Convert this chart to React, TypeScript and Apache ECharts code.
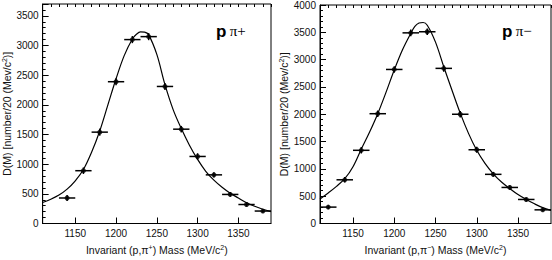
import React, { useEffect, useRef } from "react";
import * as echarts from "echarts";

// ---- data ----
const binHalfWidth = 10;

const plusMass = [1140, 1160, 1180, 1200, 1220, 1240, 1260, 1280, 1300, 1320, 1340, 1360, 1380];
const plusCounts = [430, 890, 1540, 2390, 3100, 3150, 2310, 1590, 1130, 820, 490, 320, 210];
const plusErr = [50, 55, 60, 60, 60, 60, 60, 55, 55, 45, 40, 35, 30];

const minusMass = [1120, 1140, 1160, 1180, 1200, 1220, 1240, 1260, 1280, 1300, 1320, 1340, 1360, 1380];
const minusCounts = [300, 800, 1340, 2010, 2820, 3490, 3510, 2840, 2000, 1350, 900, 660, 440, 250];
const minusErr = [35, 50, 60, 60, 60, 60, 60, 60, 60, 55, 45, 40, 35, 30];

const fitMass = [1110, 1120, 1130, 1140, 1150, 1160, 1170, 1180, 1190, 1200, 1210, 1220, 1225, 1230, 1235, 1240, 1250, 1260, 1270, 1280, 1290, 1300, 1310, 1320, 1330, 1340, 1350, 1360, 1370, 1380, 1390];
const plusFit = [355, 410, 480, 580, 720, 910, 1200, 1560, 2000, 2440, 2830, 3110, 3190, 3230, 3225, 3180, 2850, 2340, 1920, 1600, 1320, 1080, 880, 730, 610, 510, 430, 350, 290, 240, 200];
const minusFit = [450, 560, 680, 820, 1040, 1360, 1670, 2010, 2400, 2810, 3180, 3480, 3610, 3670, 3680, 3630, 3320, 2870, 2440, 2020, 1650, 1340, 1100, 910, 760, 640, 530, 440, 360, 290, 240];

const xMajorTicks = [1150, 1200, 1250, 1300, 1350];
const xMin = 1110;
const xMax = 1390;
const plusYMax = 3700;
const minusYMax = 4000;

const FONT = "'Liberation Sans', Arial, Helvetica, sans-serif";

function zip(a: number[], b: number[], c?: number[]) {
  return a.map((v, i) => (c ? [v, b[i], c[i]] : [v, b[i]]));
}

function errRender(params: any, api: any) {
  const x = api.value(0);
  const y = api.value(1);
  const e = api.value(2);
  const a = api.coord([x - binHalfWidth, y]);
  const b = api.coord([x + binHalfWidth, y]);
  const c = api.coord([x, y - e]);
  const d = api.coord([x, y + e]);
  const style = { stroke: "#000", lineWidth: 1.5 };
  return {
    type: "group",
    children: [
      { type: "line", shape: { x1: a[0], y1: a[1], x2: b[0], y2: b[1] }, style },
      { type: "line", shape: { x1: c[0], y1: c[1], x2: d[0], y2: d[1] }, style },
    ],
  };
}

const axisLineStyle = { color: "#000", width: 1 };
const supStyle = { fontSize: 7, verticalAlign: "top", padding: [0, 0, 5, 0], fontFamily: FONT, color: "#111" };

function makeXAxes(gridIndex: number, sign: string) {
  return [
    {
      type: "value",
      gridIndex,
      min: xMin,
      max: xMax,
      splitLine: { show: false },
      axisLine: { show: true, lineStyle: axisLineStyle },
      axisTick: { show: true, inside: true, length: 6, lineStyle: axisLineStyle, customValues: xMajorTicks },
      axisLabel: {
        customValues: xMajorTicks,
        formatter: (v: number) => String(v),
        color: "#111",
        fontFamily: FONT,
        fontSize: 10,
        margin: 5,
      },
      name: `Invariant (p,π{sup|${sign}}) Mass (MeV/c{sup|2})`,
      nameLocation: "middle",
      nameGap: 20,
      nameTextStyle: {
        color: "#111",
        fontFamily: FONT,
        fontSize: 10.5,
        rich: { sup: supStyle },
      },
    },
    {
      type: "value",
      gridIndex,
      min: xMin,
      max: xMax,
      interval: 10,
      splitLine: { show: false },
      axisLine: { show: false },
      axisTick: { show: true, inside: true, length: 3, lineStyle: axisLineStyle },
      axisLabel: { show: false },
    },
  ];
}

function makeYAxis(gridIndex: number, max: number) {
  return {
    type: "value",
    gridIndex,
    min: 0,
    max,
    interval: 500,
    splitLine: { show: false },
    axisLine: { show: true, lineStyle: axisLineStyle },
    axisTick: { show: true, inside: true, length: 6, lineStyle: axisLineStyle },
    minorTick: { show: true, splitNumber: 5, length: 3, lineStyle: axisLineStyle },
    axisLabel: {
      color: "#111",
      fontFamily: FONT,
      fontSize: 10,
      margin: 4,
      formatter: (v: number) => (v % 500 === 0 ? String(v) : ""),
    },
    name: "D(M) [number/20 (Mev/c{sup|2})]",
    nameLocation: "middle",
    nameRotate: 90,
    nameGap: 28,
    nameTextStyle: {
      color: "#111",
      fontFamily: FONT,
      fontSize: 10.5,
      rich: { sup: supStyle },
    },
  };
}

function piLabel(x: number, text: string) {
  return {
    type: "text",
    x,
    y: 31,
    style: {
      text,
      verticalAlign: "middle",
      rich: {
        p: { fontFamily: FONT, fontWeight: "bold", fontSize: 17, fill: "#000" },
        pi: { fontFamily: "'Liberation Serif', 'DejaVu Serif', serif", fontSize: 15, fill: "#000" },
      },
    },
  };
}

export default function App() {
  const ref = useRef<HTMLDivElement>(null);
  useEffect(() => {
    if (!ref.current) return;
    const chart = echarts.init(ref.current, undefined, { renderer: "svg" });
    const option: any = {
      animation: false,
      backgroundColor: "#fff",
      grid: [
        { left: 41, top: 4, width: 230, height: 229, show: true, borderColor: "#000", borderWidth: 1, backgroundColor: "transparent" },
        { left: 320, top: 5, width: 231, height: 229, show: true, borderColor: "#000", borderWidth: 1, backgroundColor: "transparent" },
      ],
      xAxis: [...makeXAxes(0, "+"), ...makeXAxes(1, "−")],
      yAxis: [makeYAxis(0, plusYMax), makeYAxis(1, minusYMax)],
      graphic: [piLabel(216, "{p|p} {pi|π+}"), piLabel(502, "{p|p} {pi|π−}")],
      series: [
        {
          type: "line",
          xAxisIndex: 0,
          yAxisIndex: 0,
          data: zip(fitMass, plusFit),
          smooth: 0.35,
          showSymbol: false,
          lineStyle: { color: "#000", width: 1.2 },
          z: 2,
        },
        {
          type: "custom",
          xAxisIndex: 0,
          yAxisIndex: 0,
          data: zip(plusMass, plusCounts, plusErr),
          renderItem: errRender,
          z: 3,
        },
        {
          type: "scatter",
          xAxisIndex: 0,
          yAxisIndex: 0,
          data: zip(plusMass, plusCounts),
          symbol: "circle",
          symbolSize: 5,
          itemStyle: { color: "#000" },
          z: 4,
        },
        {
          type: "line",
          xAxisIndex: 2,
          yAxisIndex: 1,
          data: zip(fitMass, minusFit),
          smooth: 0.35,
          showSymbol: false,
          lineStyle: { color: "#000", width: 1.2 },
          z: 2,
        },
        {
          type: "custom",
          xAxisIndex: 2,
          yAxisIndex: 1,
          data: zip(minusMass, minusCounts, minusErr),
          renderItem: errRender,
          z: 3,
        },
        {
          type: "scatter",
          xAxisIndex: 2,
          yAxisIndex: 1,
          data: zip(minusMass, minusCounts),
          symbol: "circle",
          symbolSize: 5,
          itemStyle: { color: "#000" },
          z: 4,
        },
      ],
    };
    chart.setOption(option);
    return () => chart.dispose();
  }, []);
  return (
    <div
      ref={ref}
      style={{ position: "absolute", left: 0, top: 0, width: 552, height: 260, background: "#fff" }}
    />
  );
}
